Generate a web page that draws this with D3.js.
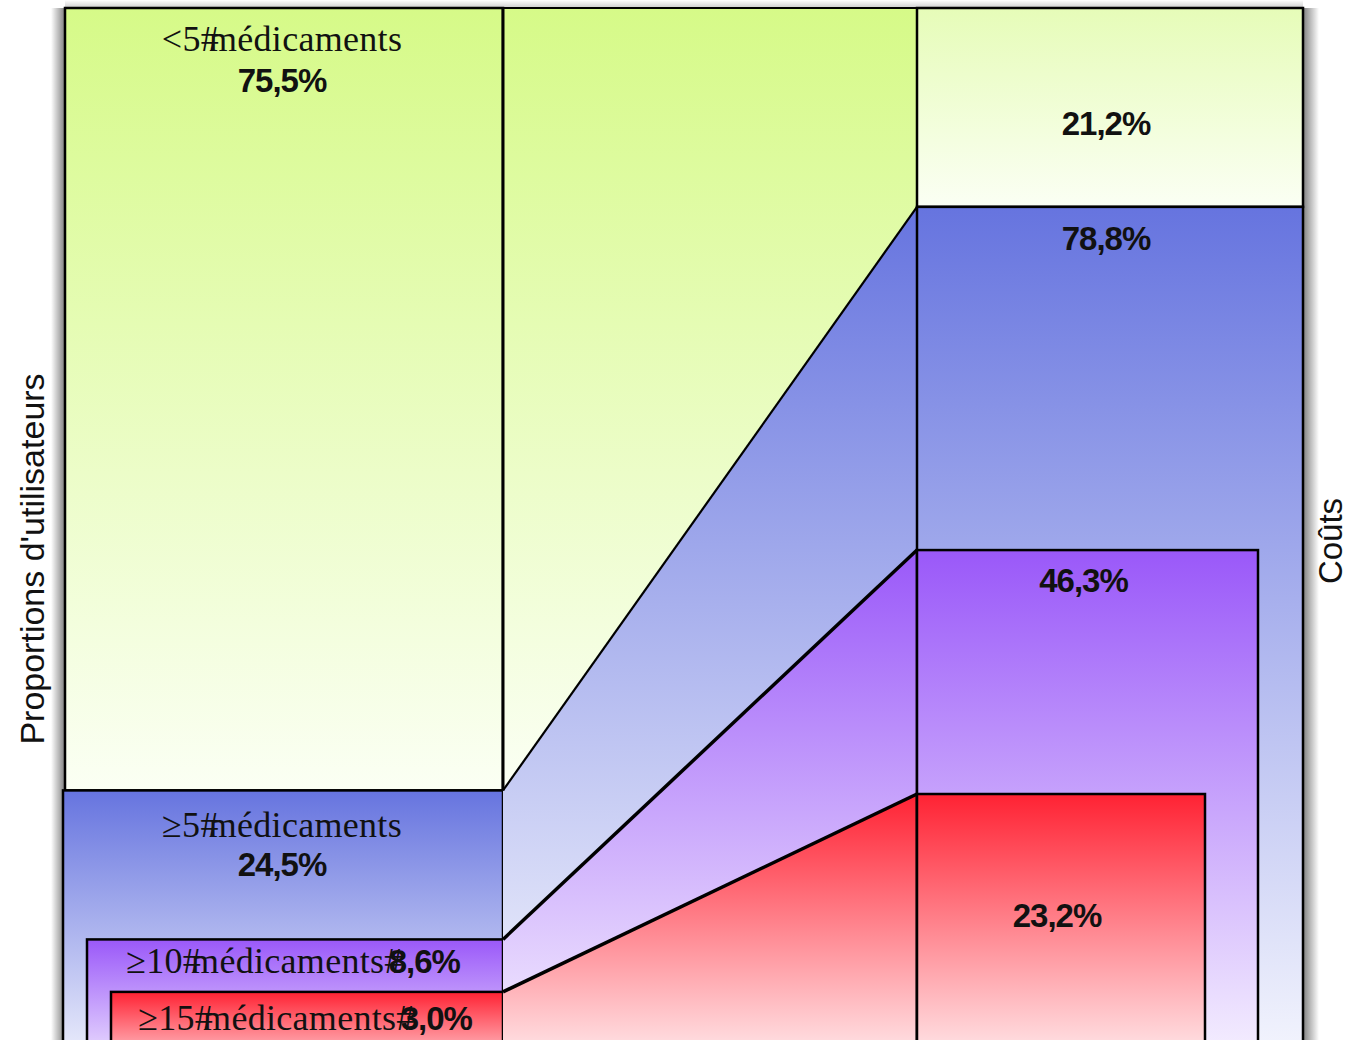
<!DOCTYPE html>
<html><head><meta charset="utf-8">
<script src="https://cdn.jsdelivr.net/npm/d3@7"></script>
<style>body{margin:0;background:#fff}svg{display:block}</style>
</head><body><svg id="chart" width="1349" height="1040"></svg>
<script>
// ---- data ----
const groups = ["<5#médicaments", "≥5#médicaments", "≥10#médicaments#", "≥15#médicaments#"];
const userShares = [75.5, 24.5, 8.6, 3.0];   // % of users (nested, cumulative for ≥)
const costShares = [21.2, 78.8, 46.3, 23.2]; // % of costs
const axisTitles = ["Proportions d'utilisateurs", "Coûts"];
const colorTop = ["#d6fa88", "#6674df", "#9a58f9", "#ff2233"];
const colorBottom = ["#fbfff4", "#f7f8fe", "#f9f6ff", "#fff7f8"];

// ---- layout ----
const W = 1349, H = 1040;
const plotTop = 8, plotBottom = 1080;
const xL0 = 65, xL1 = 503, xR0 = 917, xR1 = 1303;
const leftInset = [0, -2, 22, 46];
const rightShrink = [0, 0, 45, 98];

const yUsers = d3.scaleLinear().domain([0, 100]).range([1020, 83]);
const yCosts = d3.scaleLinear().domain([0, 100]).range([1039, -17]);
const fr = d3.formatLocale({decimal: ",", thousands: " ", grouping: [3], currency: ["", "€"]});
const pct = v => fr.format(".1f")(v) + "%";

const svg = d3.select("#chart");
svg.append("rect").attr("width", W).attr("height", H).attr("fill", "#fff");
const defs = svg.append("defs");

function grad(id, c0, c1, o0 = 1, o1 = 1, horiz = false) {
  const g = defs.append("linearGradient").attr("id", id).attr("x1", 0).attr("y1", 0)
    .attr("x2", horiz ? 1 : 0).attr("y2", horiz ? 0 : 1);
  g.append("stop").attr("offset", 0).attr("stop-color", c0).attr("stop-opacity", o0);
  g.append("stop").attr("offset", 1).attr("stop-color", c1).attr("stop-opacity", o1);
  return `url(#${id})`;
}
const fills = colorTop.map((c, i) => grad("g" + i, c, colorBottom[i]));
const fillRight0 = grad("gr0", d3.interpolateRgb(colorTop[0], "#ffffff")(0.4), colorBottom[0]);

// soft shadow around the figure
const shL = grad("shL", "#000", "#000", 0, 0.5, true);
const shR = grad("shR", "#000", "#000", 0.5, 0, true);
const shT = grad("shT", "#000", "#000", 0, 0.2, false);
svg.append("rect").attr("x", xL0 - 14).attr("y", plotTop).attr("width", 14).attr("height", H).attr("fill", shL);
svg.append("rect").attr("x", xR1).attr("y", plotTop).attr("width", 16).attr("height", H).attr("fill", shR);
svg.append("rect").attr("x", xL0).attr("y", 0).attr("width", xR1 - xL0).attr("height", plotTop).attr("fill", shT);

const stroke = "#000";

// ---- left column (users) ----
const leftTop = i => i === 0 ? plotTop : yUsers(userShares[i]);
const leftBot = i => i === 0 ? yUsers(userShares[1]) : plotBottom;
groups.forEach((g, i) => {
  svg.append("rect").attr("x", xL0 + leftInset[i]).attr("y", leftTop(i))
    .attr("width", xL1 - xL0 - leftInset[i]).attr("height", leftBot(i) - leftTop(i))
    .attr("fill", fills[i]).attr("stroke", stroke).attr("stroke-width", 2.5);
});

// ---- middle connectors ----
const rightTop = i => i === 0 ? plotTop : yCosts(costShares[i]);
const rightBot = i => i === 0 ? yCosts(costShares[1]) : plotBottom;
const line = d3.line();
groups.forEach((g, i) => {
  const pts = i === 0
    ? [[xL1, plotTop], [xR0, plotTop], [xR0, yCosts(costShares[1])], [xL1, yUsers(userShares[1])]]
    : [[xL1, yUsers(userShares[i])], [xR0, yCosts(costShares[i])], [xR0, plotBottom], [xL1, plotBottom]];
  svg.append("path").attr("d", line(pts) + "Z").attr("fill", fills[i]).attr("stroke", "none");
});
groups.forEach((g, i) => {
  const seg = i === 0 ? [[xL1, plotTop], [xR0, plotTop]]
    : [[xL1, yUsers(userShares[i])], [xR0, yCosts(costShares[i])]];
  svg.append("path").attr("d", line(seg)).attr("fill", "none").attr("stroke", stroke)
    .attr("stroke-width", i >= 2 ? 3.5 : 2.2);
});
svg.append("line").attr("x1", xL1).attr("x2", xL1).attr("y1", plotTop).attr("y2", yUsers(userShares[1]))
  .attr("stroke", stroke).attr("stroke-width", 3);

// ---- right column (costs) ----
groups.forEach((g, i) => {
  svg.append("rect").attr("x", xR0).attr("y", rightTop(i))
    .attr("width", xR1 - xR0 - rightShrink[i]).attr("height", rightBot(i) - rightTop(i))
    .attr("fill", i === 0 ? fillRight0 : fills[i]).attr("stroke", stroke).attr("stroke-width", 2.5);
});

// ---- labels ----
const serif = "'Liberation Serif', 'Times New Roman', serif";
const sans = "'Liberation Sans', Arial, sans-serif";
function serifText(x, y) {
  return svg.append("text").attr("x", x).attr("y", y).attr("text-anchor", "middle")
    .attr("font-family", serif).attr("font-size", 36).attr("letter-spacing", 0.3).attr("fill", "#111");
}
groups.forEach((g, i) => {
  const cx = (xL0 + Math.max(0, leftInset[i]) + xL1) / 2 - 2;
  const top = leftTop(i);
  const parts = g.split("#");
  if (i < 2) {
    const t = serifText(cx, top + (i === 0 ? 43 : 47));
    t.append("tspan").text(parts[0] + "#");
    t.append("tspan").attr("dx", -10).text(parts[1]);
    svg.append("text").attr("x", cx).attr("y", top + (i === 0 ? 84 : 86)).attr("text-anchor", "middle")
      .attr("font-family", sans).attr("font-weight", "bold").attr("font-size", 33).attr("letter-spacing", -1)
      .attr("fill", "#111").text(pct(userShares[i]));
  } else {
    const t = serifText(cx, top + (i === 2 ? 34 : 38));
    t.append("tspan").text(parts[0] + "#");
    t.append("tspan").attr("dx", -10).text(parts[1] + "#");
    t.append("tspan").attr("dx", -14).attr("font-family", sans).attr("font-weight", "bold")
      .attr("font-size", 33).attr("letter-spacing", -1).text(pct(userShares[i]));
  }
});
const rightDy = [127, 43, 42, 133];
groups.forEach((g, i) => {
  const cx = (xR0 + xR1 - rightShrink[i]) / 2 - 4;
  svg.append("text").attr("x", cx).attr("y", rightTop(i) + rightDy[i]).attr("text-anchor", "middle")
    .attr("font-family", sans).attr("font-weight", "bold").attr("font-size", 33).attr("letter-spacing", -1)
    .attr("fill", "#111").text(pct(costShares[i]));
});

// ---- axis titles ----
svg.append("text").attr("transform", "translate(44,559) rotate(-90)").attr("text-anchor", "middle")
  .attr("font-family", sans).attr("font-size", 34).attr("fill", "#111").text(axisTitles[0]);
svg.append("text").attr("transform", "translate(1342,541) rotate(-90)").attr("text-anchor", "middle")
  .attr("font-family", sans).attr("font-size", 33).attr("fill", "#111").text(axisTitles[1]);
</script></body></html>
